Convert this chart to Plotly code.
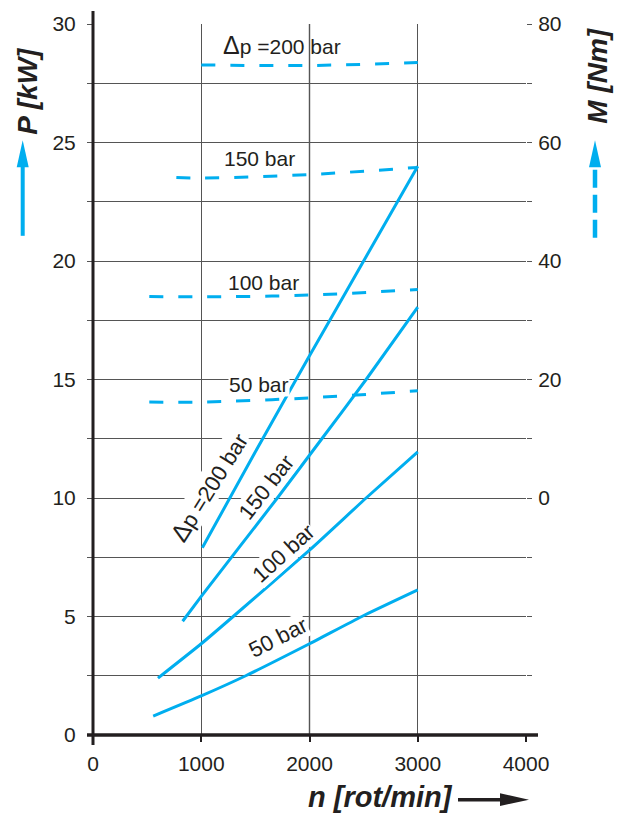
import plotly.graph_objects as go

# ---------------- data ----------------
n_ticks = [0, 1000, 2000, 3000, 4000]
P_ticks = [0, 2.5, 5, 7.5, 10, 12.5, 15, 17.5, 20, 22.5, 25, 27.5, 30]
P_ticktext = ["0", "", "5", "", "10", "", "15", "", "20", "", "25", "", "30"]
M_ticks = [-40, -30, -20, -10, 0, 10, 20, 30, 40, 50, 60, 70, 80]
M_ticktext = ["", "", "", "", "0", "", "20", "", "40", "", "60", "", "80"]

# Power P [kW] vs speed n [rot/min]
n_p200 = [1010, 1500, 2000, 2500, 3000]
p_p200 = [7.9, 11.95, 16.0, 20.0, 24.0]
n_p150 = [828, 1000, 1703, 2114, 2523, 3000]
p_p150 = [4.8, 5.85, 10.0, 12.5, 15.0, 18.05]
n_p100 = [600, 1000, 1295, 2000, 2523, 3000]
p_p100 = [2.4, 3.85, 5.0, 7.8, 10.0, 11.95]
n_p50 = [556, 1000, 1411, 2000, 2484, 3000]
p_p50 = [0.8, 1.65, 2.5, 3.85, 5.0, 6.12]

# Torque M [Nm] vs speed n [rot/min]
n_m200 = [1000, 2000, 3000]
m_m200 = [73.1, 73.0, 73.5]
n_m150 = [770, 1000, 2000, 3000]
m_m150 = [54.1, 54.0, 54.6, 55.8]
n_m100 = [520, 1000, 2000, 3000]
m_m100 = [34.0, 33.95, 34.25, 35.2]
n_m50 = [520, 1000, 2000, 3000]
m_m50 = [16.2, 16.2, 16.9, 18.1]

CYAN = "#00AEEF"
INK = "#231F20"
FONT = "Liberation Sans, Arial, sans-serif"

W, H = 617, 815
ML, MR, MT, MB = 93, 91, 20, 80
PW = W - ML - MR
PH = H - MT - MB


def px(x):
    return (x - ML) / PW


def py(y):
    return (H - MB - y) / PH


fig = go.Figure()

for nn, pp in [(n_p200, p_p200), (n_p150, p_p150), (n_p100, p_p100), (n_p50, p_p50)]:
    fig.add_trace(go.Scatter(x=nn, y=pp, mode="lines",
                             line=dict(color=CYAN, width=3, shape="spline", smoothing=0.5),
                             showlegend=False, hoverinfo="skip"))

for nn, mm in [(n_m200, m_m200), (n_m150, m_m150), (n_m100, m_m100), (n_m50, m_m50)]:
    fig.add_trace(go.Scatter(x=nn, y=mm, mode="lines", yaxis="y2",
                             line=dict(color=CYAN, width=3, dash="14px,15px", shape="spline"),
                             showlegend=False, hoverinfo="skip"))

shapes = []
# axis lines
shapes.append(dict(type="line", xref="paper", yref="paper", x0=0, x1=0,
                   y0=py(745), y1=py(7), line=dict(color=INK, width=3), layer="above"))
shapes.append(dict(type="line", xref="paper", yref="paper", x0=px(87), x1=px(538),
                   y0=0, y1=0, line=dict(color=INK, width=3.5), layer="above"))
# darker 2000 grid line
shapes.append(dict(type="line", xref="x", yref="paper", x0=2000, x1=2000,
                   y0=0, y1=1, line=dict(color="#111", width=1.3), layer="below"))

# left solid arrow
shapes.append(dict(type="line", xref="paper", yref="paper", x0=px(22.7), x1=px(22.7),
                   y0=py(233), y1=py(160), line=dict(color=CYAN, width=4)))
shapes.append(dict(type="path", xref="paper", yref="paper",
                   path=f"M {px(22.7)} {py(137)} L {px(16.7)} {py(164)} L {px(28.7)} {py(164)} Z",
                   fillcolor=CYAN, line=dict(width=0)))
# right dashed arrow
shapes.append(dict(type="line", xref="paper", yref="paper", x0=px(595), x1=px(595),
                   y0=py(235), y1=py(166), line=dict(color=CYAN, width=4.5, dash="18px,7px")))
shapes.append(dict(type="path", xref="paper", yref="paper",
                   path=f"M {px(595)} {py(137)} L {px(589)} {py(164)} L {px(601)} {py(164)} Z",
                   fillcolor=CYAN, line=dict(width=0)))
# bottom arrow
shapes.append(dict(type="line", xref="paper", yref="paper", x0=px(458), x1=px(505),
                   y0=py(800), y1=py(800), line=dict(color=INK, width=3.5)))
shapes.append(dict(type="path", xref="paper", yref="paper",
                   path=f"M {px(529)} {py(800)} L {px(500)} {py(793.5)} L {px(500)} {py(806.5)} Z",
                   fillcolor=INK, line=dict(width=0)))

annotations = []


def ann(text, x, y, size=21, angle=0, bg=None, bold_italic=False):
    t = f"<b><i>{text}</i></b>" if bold_italic else text
    d = dict(text=t, x=px(x), y=py(y), xref="paper", yref="paper", showarrow=False,
             xanchor="center", yanchor="middle", textangle=angle,
             font=dict(family=FONT, size=size, color=INK))
    if bg:
        d.update(bgcolor=bg, borderpad=0)
    annotations.append(d)


DELTA = "<span style='font-size:25px'>Δ</span>"

ann("P [kW]", 28, 87, size=28, angle=-90, bold_italic=True)
ann("M [Nm]", 598, 72, size=28, angle=-90, bold_italic=True)
ann("n [rot/min]", 380, 797, size=29, bold_italic=True)

ann(DELTA + "p =200 bar", 282, 41)
ann("150 bar", 259, 155)
ann("100 bar", 263, 280)
ann("50 bar", 259, 383, bg="white")

ann(DELTA + "p =200 bar", 209, 486, size=22, angle=-58, bg="white")
ann("150 bar", 266, 486, size=22, angle=-52, bg="white")
ann("100 bar", 283, 552, size=22, angle=-42, bg="white")
ann("50 bar", 278, 637, size=22, angle=-27, bg="white")

fig.update_layout(
    width=W, height=H,
    margin=dict(l=ML, r=MR, t=MT, b=MB, pad=0),
    paper_bgcolor="white", plot_bgcolor="white",
    font=dict(family=FONT, color=INK, size=21),
    xaxis=dict(range=[0, 4000], tickvals=n_ticks, showgrid=True, gridcolor="#555",
               gridwidth=1, zeroline=False, showline=False, ticks="outside", ticklen=6,
               tickwidth=1.5, tickcolor=INK, tickfont=dict(size=21, color=INK),
               ticklabelstandoff=4),
    yaxis=dict(range=[0, 30], tickvals=P_ticks, ticktext=P_ticktext, showgrid=True,
               gridcolor="#555", gridwidth=1.3, zeroline=False, showline=False,
               ticks="outside", ticklen=5, tickwidth=1.3, tickcolor="#555",
               tickfont=dict(size=21, color=INK), ticklabelstandoff=7),
    yaxis2=dict(range=[-40, 80], overlaying="y", side="right", tickvals=M_ticks,
                ticktext=M_ticktext, showgrid=False, zeroline=False, showline=False,
                ticks="outside", ticklen=5, tickwidth=1.3, tickcolor="#555",
                tickfont=dict(size=21, color=INK), ticklabelstandoff=2),
    shapes=shapes,
    annotations=annotations,
)

fig.write_html("out.html", config={"displayModeBar": False},
               post_script="document.body.style.margin='0';document.body.style.overflow='hidden';")
